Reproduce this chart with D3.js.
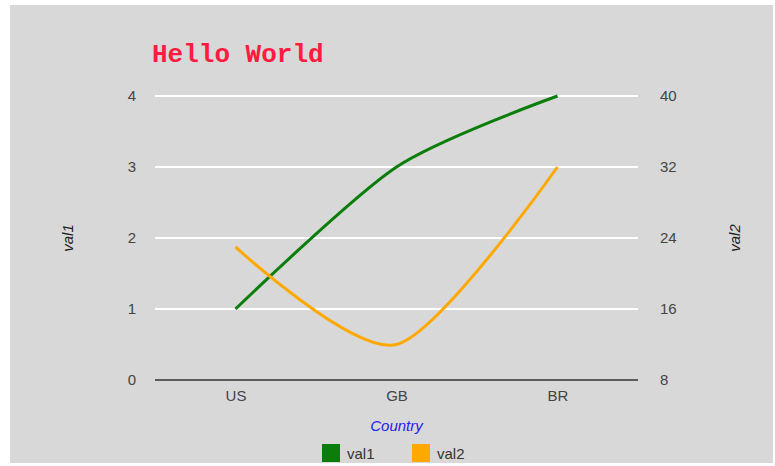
<!DOCTYPE html>
<html>
<head>
<meta charset="utf-8">
<script src="https://cdn.jsdelivr.net/npm/d3@7"></script>
<style>
  body { margin: 0; background: #fff; }
  svg { display: block; font-family: Arial, "Liberation Sans", sans-serif; }
</style>
</head>
<body>
<div class="chart"></div>
<script>
const countries = ["US", "GB", "BR"];
const val1 = [1, 3, 4];
const val2 = [23, 12, 32];
const leftTicks = [0, 1, 2, 3, 4];
const rightTicks = [8, 16, 24, 32, 40];
const seriesNames = ["val1", "val2"];
const seriesColors = ["#0a7d0a", "#ffa800"];

const W = 775, H = 466;
const plot = {left: 155, right: 638, top: 96, bottom: 380};

const svg = d3.select(".chart")
  .append("svg")
  .attr("width", W)
  .attr("height", H);

// panel background
svg.append("rect")
  .attr("x", 10).attr("y", 5)
  .attr("width", 763).attr("height", 458)
  .attr("fill", "#d8d8d8");

const x = d3.scalePoint()
  .domain(countries)
  .range([plot.left, plot.right])
  .padding(0.5);

const yL = d3.scaleLinear().domain([0, 4]).range([plot.bottom, plot.top]);
const yR = d3.scaleLinear().domain([8, 40]).range([plot.bottom, plot.top]);

// gridlines
svg.append("g")
  .selectAll("line")
  .data(leftTicks.filter(d => d > 0))
  .join("line")
  .attr("x1", plot.left).attr("x2", plot.right)
  .attr("y1", d => yL(d)).attr("y2", d => yL(d))
  .attr("stroke", "#fff")
  .attr("stroke-width", 2);

// baseline
svg.append("line")
  .attr("x1", plot.left).attr("x2", plot.right)
  .attr("y1", yL(0)).attr("y2", yL(0))
  .attr("stroke", "#333")
  .attr("stroke-width", 1.5);

// left axis labels
const leftAxis = svg.append("g")
  .attr("transform", `translate(${plot.left - 19},0)`)
  .call(d3.axisLeft(yL).tickValues(leftTicks).tickFormat(d3.format("d")).tickSize(0).tickPadding(0));
leftAxis.select(".domain").remove();

// right axis labels
const rightAxis = svg.append("g")
  .attr("transform", `translate(${plot.right + 22},0)`)
  .call(d3.axisRight(yR).tickValues(rightTicks).tickSize(0).tickPadding(0));
rightAxis.select(".domain").remove();

// bottom axis labels
const bottomAxis = svg.append("g")
  .attr("transform", `translate(0,${plot.bottom + 10})`)
  .call(d3.axisBottom(x).tickSize(0).tickPadding(0));
bottomAxis.select(".domain").remove();

svg.selectAll(".tick text")
  .attr("font-size", 15)
  .attr("font-family", "Arial, 'Liberation Sans', sans-serif")
  .attr("fill", "#444");

// lines
const series = [val1, val2];
const scales = [yL, yR];
series.forEach((vals, i) => {
  svg.append("path")
    .datum(vals)
    .attr("fill", "none")
    .attr("stroke", seriesColors[i])
    .attr("stroke-width", 3)
    .attr("d", d3.line()
      .x((d, j) => x(countries[j]))
      .y(d => scales[i](d))
      .curve(d3.curveCardinal.tension(0.2)));
});

// title
svg.append("text")
  .attr("x", 152).attr("y", 62)
  .attr("font-family", "'Courier New', 'Liberation Mono', monospace")
  .attr("font-weight", "bold")
  .attr("font-size", 26)
  .attr("fill", "#ff1a40")
  .text("Hello World");

// axis titles
svg.append("text")
  .attr("transform", `translate(73,${(plot.top + plot.bottom) / 2}) rotate(-90)`)
  .attr("text-anchor", "middle")
  .attr("font-style", "italic")
  .attr("font-size", 15)
  .attr("fill", "#222")
  .text("val1");

svg.append("text")
  .attr("transform", `translate(740,${(plot.top + plot.bottom) / 2}) rotate(-90)`)
  .attr("text-anchor", "middle")
  .attr("font-style", "italic")
  .attr("font-size", 15)
  .attr("fill", "#222")
  .text("val2");

svg.append("text")
  .attr("x", x("GB")).attr("y", 431)
  .attr("text-anchor", "middle")
  .attr("font-style", "italic")
  .attr("font-size", 15)
  .attr("fill", "#2222ee")
  .text("Country");

// legend
const legend = svg.append("g")
  .selectAll("g")
  .data(seriesNames)
  .join("g")
  .attr("transform", (d, i) => `translate(${322 + i * 90},444)`);
legend.append("rect")
  .attr("width", 18).attr("height", 18)
  .attr("fill", (d, i) => seriesColors[i]);
legend.append("text")
  .attr("x", 25).attr("y", 15)
  .attr("font-size", 15)
  .attr("fill", "#333")
  .text(d => d);
</script>
</body>
</html>
